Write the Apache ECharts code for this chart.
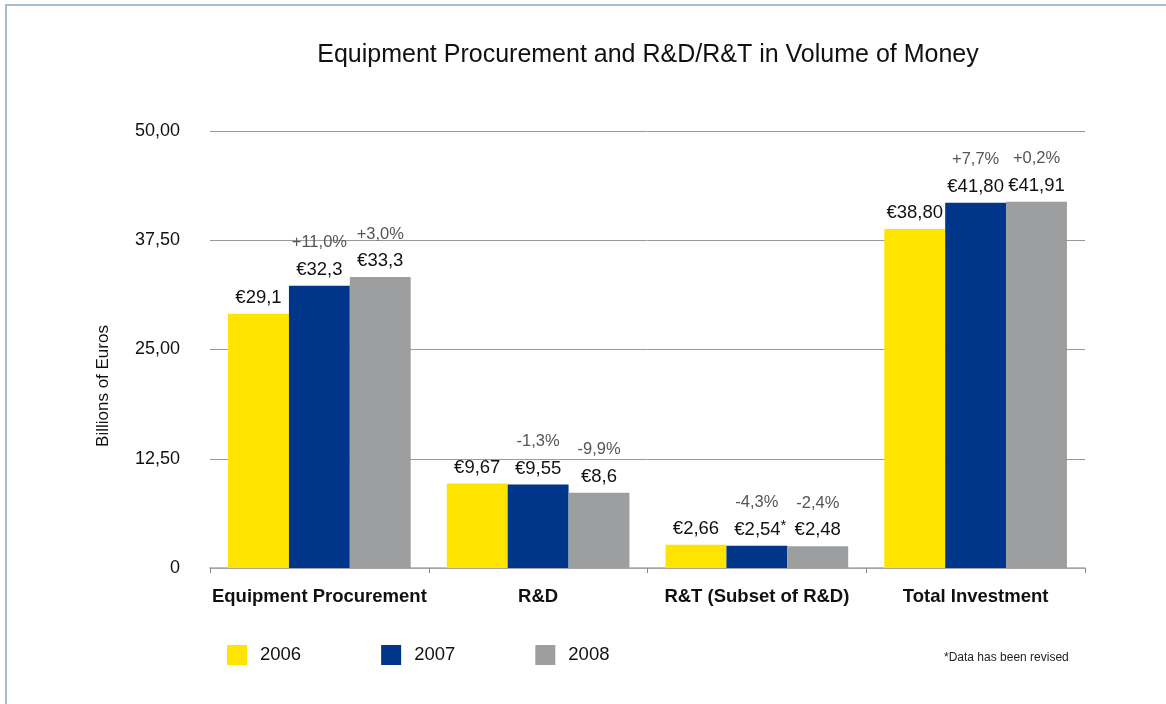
<!DOCTYPE html>
<html>
<head>
<meta charset="utf-8">
<script src="https://cdn.jsdelivr.net/npm/echarts@6/dist/echarts.min.js"></script>
<style>
  html, body { margin: 0; padding: 0; background: #fff; }
  #chart { width: 1166px; height: 704px; }
</style>
</head>
<body>
<div id="chart"></div>
<script>
var categories = ['Equipment Procurement', 'R&D', 'R&T (Subset of R&D)', 'Total Investment'];
var years = ['2006', '2007', '2008'];

var values2006 = [29.1, 9.67, 2.66, 38.80];
var values2007 = [32.3, 9.55, 2.54, 41.80];
var values2008 = [33.3, 8.6, 2.48, 41.91];

var labels2006 = ['€29,1', '€9,67', '€2,66', '€38,80'];
var labels2007 = ['€32,3', '€9,55', '€2,54', '€41,80'];
var labels2008 = ['€33,3', '€8,6', '€2,48', '€41,91'];

var change2007 = ['+11,0%', '-1,3%', '-4,3%', '+7,7%'];
var change2008 = ['+3,0%', '-9,9%', '-2,4%', '+0,2%'];
var revised2007 = [false, false, true, false];

var yTicks = ['0', '12,50', '25,00', '37,50', '50,00'];

var font = '"Liberation Sans", Arial, Helvetica, sans-serif';
var colors = ['#ffe400', '#003689', '#9d9ea0'];

var richStyle = {
    p: { fontSize: 16.5, color: '#555', lineHeight: 32, fontFamily: font },
    v: { fontSize: 18.5, color: '#111', lineHeight: 22, fontFamily: font },
    z: { width: 7, fontSize: 14 },
    s: { fontSize: 15, color: '#111', verticalAlign: 'top', lineHeight: 22, fontFamily: font }
};

function makeSeries(name, values, labels, changes, revised) {
    return {
        name: name,
        type: 'bar',
        data: values,
        barGap: '0%',
        barCategoryGap: '16.5%',
        label: {
            show: true,
            position: 'top',
            distance: 5,
            rich: richStyle,
            formatter: function (p) {
                var i = p.dataIndex;
                var txt = '{v|' + labels[i] + '}';
                if (revised && revised[i]) {
                    txt = '{z|}' + txt + '{s|*}';
                }
                if (changes) {
                    txt = '{p|' + changes[i] + '}\n' + txt;
                }
                return txt;
            }
        }
    };
}

var chart = echarts.init(document.getElementById('chart'));
chart.setOption({
    backgroundColor: '#fff',
    color: colors,
    textStyle: { fontFamily: font },
    animation: false,
    title: {
        text: 'Equipment Procurement and R&D/R&T in Volume of Money',
        left: 643,
        textAlign: 'center',
        top: 38,
        textStyle: { fontSize: 25, fontWeight: 'normal', color: '#111', fontFamily: font }
    },
    legend: {
        data: years,
        left: 227,
        top: 645,
        padding: 0,
        itemWidth: 20,
        itemHeight: 20,
        itemGap: 80,
        icon: 'rect',
        textStyle: { fontSize: 18.5, color: '#111', padding: [0, 0, 0, 8], fontFamily: font }
    },
    grid: { left: 210, right: 81, top: 131, bottom: 136 },
    xAxis: {
        type: 'category',
        data: categories,
        axisLine: { lineStyle: { color: '#aaa', width: 1.5 } },
        axisTick: { show: true, interval: 0, length: 5, lineStyle: { color: '#888' } },
        axisLabel: { interval: 0, margin: 19, fontSize: 18.5, fontWeight: 'bold', color: '#111', fontFamily: font }
    },
    yAxis: {
        type: 'value',
        min: 0,
        max: 50,
        interval: 12.5,
        axisLine: { show: false },
        axisTick: { show: false },
        splitLine: { lineStyle: { color: '#9a9a9a', width: 1 } },
        axisLabel: {
            margin: 30,
            fontSize: 18,
            color: '#111',
            fontFamily: font,
            formatter: function (v, idx) { return yTicks[idx]; }
        }
    },
    graphic: [
        {
            type: 'polyline',
            shape: { points: [[6, 704], [6, 5], [1166, 5]] },
            style: { stroke: '#a6bbd6', lineWidth: 2, fill: null }
        },
        {
            type: 'text',
            x: 103,
            y: 386,
            rotation: Math.PI / 2,
            style: {
                text: 'Billions of Euros',
                fontSize: 17,
                fill: '#111',
                fontFamily: font,
                align: 'center',
                verticalAlign: 'middle'
            }
        },
        {
            type: 'text',
            x: 944,
            y: 658,
            style: {
                text: '*Data has been revised',
                fontSize: 12,
                fill: '#222',
                fontFamily: font,
                verticalAlign: 'middle'
            }
        }
    ],
    series: [
        makeSeries('2006', values2006, labels2006, null, null),
        makeSeries('2007', values2007, labels2007, change2007, revised2007),
        makeSeries('2008', values2008, labels2008, change2008, null)
    ]
});
</script>
</body>
</html>
